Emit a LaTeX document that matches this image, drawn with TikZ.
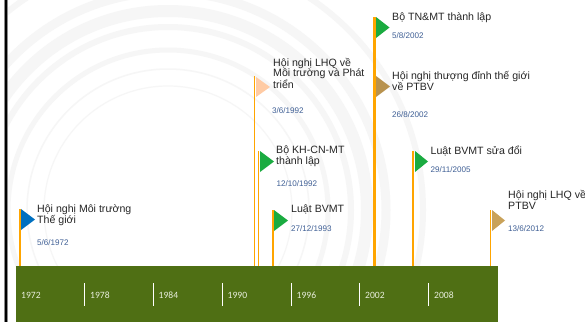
\documentclass[tikz,border=0pt]{standalone}
\usepackage{fontspec}
\setmainfont{Liberation Sans}
\newfontfamily\yearfont{Carlito}
\definecolor{barcol}{HTML}{4F6F14}
\definecolor{polecol}{HTML}{FFA500}
\definecolor{datecol}{HTML}{3F5F95}
\definecolor{ringcol}{HTML}{F6F6F6}
\definecolor{flagblue}{HTML}{0070C0}
\definecolor{flaggreen}{HTML}{1AAB40}
\definecolor{flagpeach}{HTML}{FFCBA4}
\definecolor{flagbrown}{HTML}{B8924E}
\definecolor{flagtan}{HTML}{C9A25A}
\definecolor{yeartext}{HTML}{E8EEDC}
\tikzset{
  x=1pt,y=-1pt,
  evtext/.style={anchor=north west,inner sep=0pt,align=left,text=black!85,font=\fontsize{10.6}{10.2}\selectfont},
  evdate/.style={anchor=west,inner sep=0pt,text=datecol,font=\fontsize{8.1}{8}\selectfont},
  yearlab/.style={anchor=west,inner sep=0pt,text=yeartext,font=\yearfont\fontsize{9.6}{10}\selectfont},
  pole/.style={draw=polecol,line width=#1},
  sep/.style={draw=white,line width=0.8pt},
  ring/.style={draw=ringcol,line width=#1},
}
\begin{document}
\begin{tikzpicture}
\useasboundingbox (0,0) rectangle (585,322);
\fill[white] (0,0) rectangle (585,322);
% background rings
\begin{scope}
\clip (8,0) rectangle (585,266);
\coordinate (rc) at (168,210);
\draw[ring=6pt] (rc) circle[radius=255];
\draw[ring=9pt] (rc) circle[radius=218];
\draw[ring=12pt] (rc) circle[radius=199];
\draw[ring=6pt] (rc) circle[radius=183];
\draw[ring=5pt] (rc) circle[radius=160];
\draw[ring=1.5pt] (rc) circle[radius=141];
\draw[ring=1.2pt] (rc) circle[radius=124];
\end{scope}
% left frame
\fill[black!45] (4.2,0) rectangle (8,322);
\fill[black] (5,0) rectangle (7,322);
% base bar
\node[fill=barcol,inner sep=0pt,minimum width=482pt,minimum height=56pt,anchor=north west] (bar) at (16,266) {};
% poles
\coordinate (p1) at (19.5,209); \coordinate (b1) at (19.5,266);
\coordinate (p2) at (254.5,76); \coordinate (b2) at (254.5,266);
\coordinate (p3) at (258.5,151); \coordinate (b3) at (258.5,266);
\coordinate (p4) at (273,210); \coordinate (b4) at (273,266);
\coordinate (p5) at (374.5,17); \coordinate (b5) at (374.5,266);
\coordinate (p6) at (413,151); \coordinate (b6) at (413,266);
\coordinate (p7) at (490.5,210); \coordinate (b7) at (490.5,266);
\draw[pole=2pt] (p1) -- (b1);
\draw[pole=1.1pt] (p2) -- (b2);
\draw[pole=1.1pt] (p3) -- (b3);
\draw[pole=2pt] (p4) -- (b4);
\draw[pole=2.6pt] (p5) -- (b5);
\draw[pole=2pt] (p6) -- (b6);
\draw[pole=1.1pt] (p7) -- (b7);
% flags
\fill[flagblue] (21,209) -- (35,219.5) -- (21,230) -- cycle;
\fill[flagpeach] (256,77) -- (270,87) -- (256,97) -- cycle;
\fill[flaggreen] (260,151) -- (274,161.5) -- (260,172) -- cycle;
\fill[flaggreen] (274,210) -- (288,220.5) -- (274,231) -- cycle;
\fill[flaggreen] (376,17) -- (389.5,27.5) -- (376,38) -- cycle;
\fill[flagbrown] (376,76) -- (390,86.5) -- (376,97) -- cycle;
\fill[flaggreen] (415,151) -- (428,161.5) -- (415,172) -- cycle;
\fill[flagtan] (492,210) -- (505,220.5) -- (492,231) -- cycle;
% event texts
\node[evtext] (e1) at (37,204) {Hội nghị Môi trường\\Thế giới};
\node[evdate] (d1) at (37,243) {5/6/1972};
\node[evtext] (e2) at (273,58) {Hội nghị LHQ về\\Môi trường và Phát\\triển};
\node[evdate] (d2) at (272,110.5) {3/6/1992};
\node[evtext] (e3) at (276,146) {Bộ KH-CN-MT\\thành lập};
\node[evdate] (d3) at (276.5,184) {12/10/1992};
\node[evtext] (e4) at (291,204.5) {Luật BVMT};
\node[evdate] (d4) at (291,229) {27/12/1993};
\node[evtext] (e5) at (392,12) {Bộ TN\&MT thành lập};
\node[evdate] (d5) at (392,36) {5/8/2002};
\node[evtext] (e6) at (392,71) {Hội nghị thượng đỉnh thế giới\\về PTBV};
\node[evdate] (d6) at (392,115) {26/8/2002};
\node[evtext] (e7) at (430.5,146) {Luật BVMT sửa đổi};
\node[evdate] (d7) at (430.5,170) {29/11/2005};
\node[evtext] (e8) at (508,190.5) {Hội nghị LHQ về\\PTBV};
\node[evdate] (d8) at (508,229) {13/6/2012};
% years
\node[yearlab] (y1) at (21,295) {1972};
\node[yearlab] (y2) at (90,295) {1978};
\node[yearlab] (y3) at (158.5,295) {1984};
\node[yearlab] (y4) at (227.5,295) {1990};
\node[yearlab] (y5) at (296.5,295) {1996};
\node[yearlab] (y6) at (365,295) {2002};
\node[yearlab] (y7) at (434,295) {2008};
% separators
\foreach \xp in {84.5,153.5,222,291.5,359.5,428.5}
  \draw[sep] (\xp,283) -- (\xp,306);
\end{tikzpicture}
\end{document}
